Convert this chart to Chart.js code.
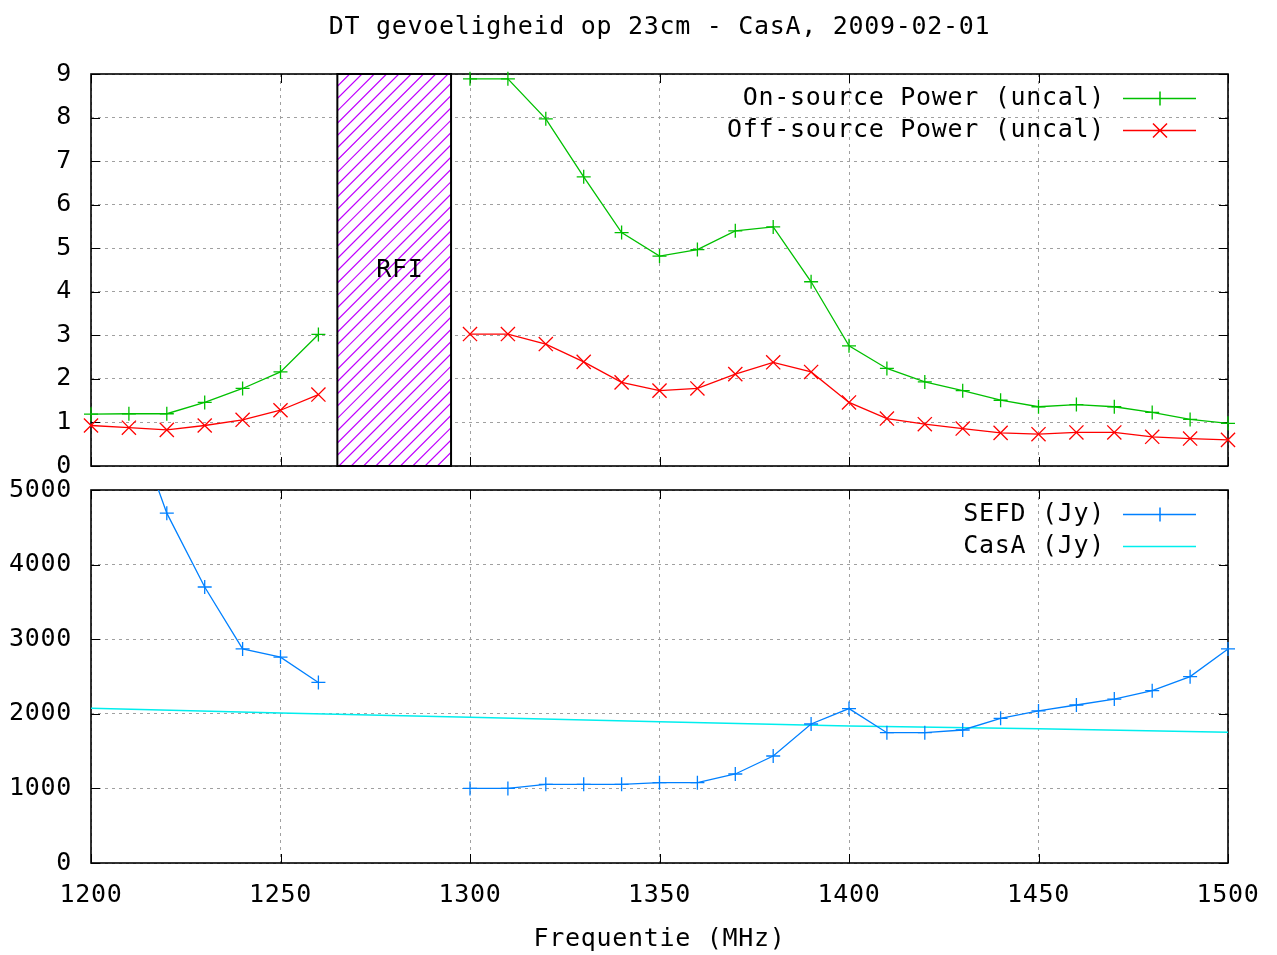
<!DOCTYPE html>
<html>
<head>
<meta charset="utf-8">
<script src="https://cdn.jsdelivr.net/npm/chart.js@4.4.1/dist/chart.umd.min.js"></script>
<style>
  body { margin: 0; background: #fff; }
  #wrap { position: relative; width: 1277px; height: 955px; }
  canvas { position: absolute; left: 0; }
  #top { top: 0; }
  #bottom { top: 478px; }
</style>
</head>
<body>
<div id="wrap">
  <canvas id="top" width="1277" height="478"></canvas>
  <canvas id="bottom" width="1277" height="477"></canvas>
</div>
<script>
// frequencies (MHz), the 1265-1295 band is skipped (RFI)
var freqs = [1200, 1210, 1220, 1230, 1240, 1250, 1260,
             1300, 1310, 1320, 1330, 1340, 1350, 1360, 1370, 1380, 1390, 1400,
             1410, 1420, 1430, 1440, 1450, 1460, 1470, 1480, 1490, 1500];
var onSource = [1.19, 1.20, 1.20, 1.46, 1.78, 2.16, 3.02,
                8.89, 8.89, 7.97, 6.64, 5.36, 4.82, 4.97, 5.40, 5.49, 4.23, 2.76,
                2.24, 1.93, 1.73, 1.51, 1.36, 1.41, 1.36, 1.23, 1.07, 0.98];
var offSource = [0.93, 0.88, 0.83, 0.93, 1.06, 1.28, 1.64,
                 3.03, 3.03, 2.80, 2.39, 1.92, 1.73, 1.78, 2.11, 2.38, 2.16, 1.46,
                 1.09, 0.96, 0.86, 0.76, 0.73, 0.77, 0.77, 0.67, 0.63, 0.60];
var sefd = [7400, 6100, 4690, 3700, 2870, 2760, 2420,
            1000, 1000, 1055, 1055, 1055, 1077, 1077, 1193, 1434, 1863, 2070,
            1747, 1747, 1783, 1940, 2038, 2118, 2198, 2310, 2498, 2869];
var casaFreqs = [1200, 1250, 1300, 1350, 1400, 1450, 1500];
var casa = [2074, 2012, 1953, 1894, 1836, 1800, 1752];
var rfiStart = 1265, rfiEnd = 1295;
var xTicks = [1200, 1250, 1300, 1350, 1400, 1450, 1500];

var FONT = 'DejaVu Sans Mono';
Chart.defaults.font.family = FONT;
Chart.defaults.font.size = 25;
Chart.defaults.color = '#000';

function pts(xs, ys) {
    return xs.map(function(x, i) { return { x: x, y: ys[i] }; });
}
// no line across the RFI gap
var gap = {
    borderColor: function(ctx) {
        return ctx.p1.parsed.x - ctx.p0.parsed.x > 10 ? 'transparent' : undefined;
    }
};

// gnuplot look: frame, inward ticks, RFI box
var framePlugin = {
    id: 'frame',
    beforeDraw: function(chart) {
        chart.ctx.letterSpacing = '0.7px';
    },
    beforeDatasetsDraw: function(chart) {
        var a = chart.chartArea, ctx = chart.ctx;
        var xs = chart.scales.x, ys = chart.scales.y;
        ctx.save();
        if (chart.options.plugins.frame.rfi) {
            var x0 = xs.getPixelForValue(rfiStart), x1 = xs.getPixelForValue(rfiEnd);
            ctx.fillStyle = '#fff';
            ctx.fillRect(x0, a.top, x1 - x0, a.height);
            ctx.save();
            ctx.beginPath();
            ctx.rect(x0, a.top, x1 - x0, a.height);
            ctx.clip();
            ctx.strokeStyle = '#c000ff';
            ctx.lineWidth = 1.2;
            ctx.beginPath();
            for (var k = x0 - a.height; k < x1; k += 12.3) {
                ctx.moveTo(k, a.bottom);
                ctx.lineTo(k + a.height, a.top);
            }
            ctx.stroke();
            ctx.restore();
            ctx.strokeStyle = '#000';
            ctx.lineWidth = 2;
            ctx.strokeRect(x0, a.top, x1 - x0, a.height);
            ctx.fillStyle = '#000';
            ctx.font = '25px "' + FONT + '"';
            ctx.textAlign = 'center';
            ctx.textBaseline = 'middle';
            ctx.fillText('RFI', xs.getPixelForValue(1281.5), ys.getPixelForValue(4.5));
        }
        ctx.strokeStyle = '#000';
        ctx.lineWidth = 1;
        ctx.beginPath();
        xs.ticks.forEach(function(t) {
            var p = Math.round(xs.getPixelForValue(t.value)) + 0.5;
            ctx.moveTo(p, a.bottom); ctx.lineTo(p, a.bottom - 9);
            ctx.moveTo(p, a.top); ctx.lineTo(p, a.top + 9);
        });
        ys.ticks.forEach(function(t) {
            var p = Math.round(ys.getPixelForValue(t.value)) + 0.5;
            ctx.moveTo(a.left, p); ctx.lineTo(a.left + 9, p);
            ctx.moveTo(a.right, p); ctx.lineTo(a.right - 9, p);
        });
        ctx.stroke();
        ctx.lineWidth = 1.6;
        ctx.strokeRect(a.left, a.top, a.width, a.height);
        ctx.restore();
    }
};

// legend: text right-aligned, sample line with marker on its right
var keyPlugin = {
    id: 'key',
    afterDatasetsDraw: function(chart) {
        var a = chart.chartArea, ctx = chart.ctx;
        ctx.save();
        ctx.font = '25px "' + FONT + '"';
        ctx.textAlign = 'right';
        ctx.textBaseline = 'middle';
        chart.data.datasets.forEach(function(ds, i) {
            var y = Math.round(a.top + 24 + i * 32) + 0.5;
            ctx.fillStyle = '#000';
            ctx.fillText(ds.label, a.right - 123, y);
            ctx.strokeStyle = ds.borderColor;
            ctx.lineWidth = 1.5;
            ctx.beginPath();
            ctx.moveTo(a.right - 105, y);
            ctx.lineTo(a.right - 32, y);
            var cx = a.right - 68, r = 7;
            if (ds.pointStyle === 'cross') {
                ctx.moveTo(cx, y - r); ctx.lineTo(cx, y + r);
            } else if (ds.pointStyle === 'crossRot') {
                ctx.moveTo(cx - r, y - r); ctx.lineTo(cx + r, y + r);
                ctx.moveTo(cx - r, y + r); ctx.lineTo(cx + r, y - r);
            }
            ctx.stroke();
        });
        ctx.restore();
    }
};

function plain(v) { return String(v); }

function xScale(showLabels) {
    return {
        type: 'linear', min: 1200, max: 1500,
        afterBuildTicks: function(s) { s.ticks = xTicks.map(function(v) { return { value: v }; }); },
        grid: { color: '#a0a0a0', drawTicks: false },
        border: { display: false, dash: [3, 4] },
        ticks: { display: showLabels, padding: 17, maxRotation: 0, callback: plain },
        title: { display: showLabels, text: 'Frequentie (MHz)', padding: { top: 0, bottom: 1 } },
        afterFit: function(s) {
            s.height = showLabels ? 92 : 0;
            s.paddingLeft = 0; s.paddingRight = 0;
        }
    };
}
function yScale(max, step) {
    return {
        min: 0, max: max,
        ticks: { stepSize: step, padding: 19, callback: plain },
        grid: { color: '#a0a0a0', drawTicks: false },
        border: { display: false, dash: [3, 4] },
        afterFit: function(s) {
            s.width = 91;
            s.paddingTop = 0; s.paddingBottom = 0;
        }
    };
}

new Chart(document.getElementById('top'), {
    type: 'line',
    data: {
        datasets: [{
            label: 'On-source Power (uncal)',
            data: pts(freqs, onSource),
            borderColor: '#00c000', backgroundColor: '#00c000',
            borderWidth: 1.3, pointStyle: 'cross', pointRadius: 7, pointBorderWidth: 1.3,
            segment: gap, clip: 10
        }, {
            label: 'Off-source Power (uncal)',
            data: pts(freqs, offSource),
            borderColor: '#ff0000', backgroundColor: '#ff0000',
            borderWidth: 1.3, pointStyle: 'crossRot', pointRadius: 10, pointBorderWidth: 1.3,
            segment: gap, clip: 10
        }]
    },
    options: {
        responsive: false, animation: false,
        layout: { padding: { left: 0, right: 49, top: 0, bottom: 12 } },
        scales: { x: xScale(false), y: yScale(9, 1) },
        plugins: {
            legend: { display: false },
            tooltip: { enabled: false },
            frame: { rfi: true },
            title: {
                display: true, fullSize: false,
                text: 'DT gevoeligheid op 23cm - CasA, 2009-02-01',
                font: { size: 25, weight: 'normal' }, color: '#000',
                padding: { top: 12, bottom: 32 }
            }
        }
    },
    plugins: [framePlugin, keyPlugin]
});

new Chart(document.getElementById('bottom'), {
    type: 'line',
    data: {
        datasets: [{
            label: 'SEFD (Jy)',
            data: pts(freqs, sefd),
            borderColor: '#0080ff', backgroundColor: '#0080ff',
            borderWidth: 1.3, pointStyle: 'cross', pointRadius: 7, pointBorderWidth: 1.3,
            segment: gap, clip: { left: 10, right: 10, top: 0, bottom: 10 }
        }, {
            label: 'CasA (Jy)',
            data: pts(casaFreqs, casa),
            borderColor: '#00eeee', backgroundColor: '#00eeee',
            borderWidth: 1.5, pointRadius: 0, pointStyle: false
        }]
    },
    options: {
        responsive: false, animation: false,
        layout: { padding: { left: 0, right: 49, top: 12, bottom: 0 } },
        scales: { x: xScale(true), y: yScale(5000, 1000) },
        plugins: {
            legend: { display: false },
            tooltip: { enabled: false },
            frame: { rfi: false }
        }
    },
    plugins: [framePlugin, keyPlugin]
});
</script>
</body>
</html>
